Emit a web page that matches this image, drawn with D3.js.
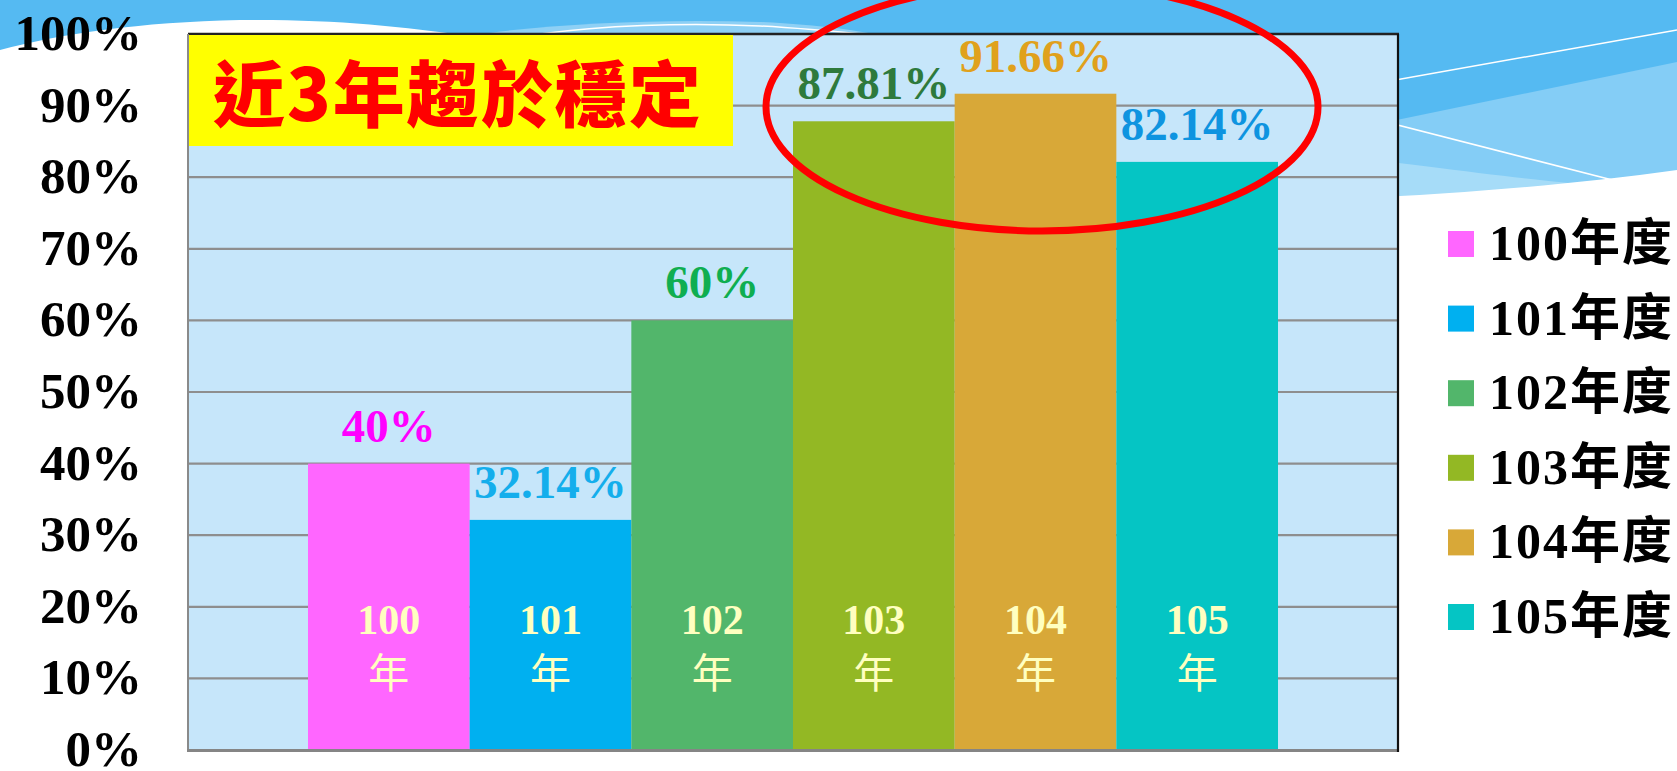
<!DOCTYPE html>
<html>
<head>
<meta charset="utf-8">
<script src="https://cdn.jsdelivr.net/npm/d3@7/dist/d3.min.js"></script>
<style>
  html, body { margin: 0; padding: 0; background: #ffffff; }
  svg { display: block; }
</style>
</head>
<body>
<svg id="chart" width="1677" height="771"></svg>
<script>
// ---- data ----
const categories = ["100年度", "101年度", "102年度", "103年度", "104年度", "105年度"];
const barYears = ["100", "101", "102", "103", "104", "105"];
const values = [40, 32.14, 60, 87.81, 91.66, 82.14];
const valueLabels = ["40%", "32.14%", "60%", "87.81%", "91.66%", "82.14%"];
const yTicks = [0, 10, 20, 30, 40, 50, 60, 70, 80, 90, 100];
const yTickLabels = ["0%", "10%", "20%", "30%", "40%", "50%", "60%", "70%", "80%", "90%", "100%"];
const barColors = ["#FF66FF", "#00B0F0", "#52B66B", "#93B824", "#D8A838", "#05C5C4"];
const labelColors = ["#FF00FF", "#14AEEC", "#0FAE50", "#2E7A3C", "#E0A11C", "#0E94E0"];
const titleText = "近3年趨於穩定";

const svg = d3.select("#chart");
const W = 1677, H = 771;
const plot = { left: 188, right: 1398, top: 34, bottom: 750 };

// ---- background sky decoration ----
const bg = svg.append("g");
bg.append("rect").attr("x", 0).attr("y", 0).attr("width", W).attr("height", 260).attr("fill", "#55BAF2");
bg.append("path").attr("d", "M1300,140 L1677,62 L1677,260 L1300,260 Z").attr("fill", "#84CDF6");
bg.append("path").attr("d", "M1300,150 C1450,170 1550,182 1620,188 L1677,190 L1677,260 L1300,260 Z").attr("fill", "#A6DCF8");
bg.append("path").attr("d", "M440,40 C520,26 640,18 760,22 C820,25 860,30 900,40 Z").attr("fill", "#8ED0F5");
bg.append("path").attr("d", "M1300,97 L1677,30").attr("stroke", "#ffffff").attr("stroke-width", 1.5).attr("fill", "none");
bg.append("path").attr("d", "M1300,100 L1628,184").attr("stroke", "#ffffff").attr("stroke-width", 1.5).attr("fill", "none");
bg.append("path").attr("d", "M540,34 C600,26 680,22 760,26 C800,28 840,32 880,36").attr("stroke", "#ffffff").attr("stroke-width", 1.5).attr("fill", "none");
bg.append("path")
  .attr("d", "M0,50 C60,34 140,22 240,20 C330,19 400,26 470,36 L1300,200 C1400,198 1550,188 1677,170 L1677,771 L0,771 Z")
  .attr("fill", "#ffffff");

// ---- scales ----
const y = d3.scaleLinear().domain([0, 100]).range([plot.bottom, plot.top]);
const x0 = d3.scaleBand().domain(["all"]).range([plot.left, plot.right]).paddingInner(0).paddingOuter(0.1237);
const x1 = d3.scaleBand().domain(categories).range([0, x0.bandwidth()]).padding(0);

// ---- plot area ----
svg.append("rect")
  .attr("x", plot.left).attr("y", plot.top)
  .attr("width", plot.right - plot.left).attr("height", plot.bottom - plot.top)
  .attr("fill", "#C6E6FA");

svg.append("g").selectAll("line").data(yTicks.filter(d => d > 0 && d < 100)).join("line")
  .attr("x1", plot.left).attr("x2", plot.right)
  .attr("y1", d => y(d)).attr("y2", d => y(d))
  .attr("stroke", "#8E8E8E").attr("stroke-width", 2.2);

const gx = x0("all");
svg.append("g").selectAll("rect").data(categories).join("rect")
  .attr("x", (d) => gx + x1(d))
  .attr("y", (d, i) => y(values[i]))
  .attr("width", x1.bandwidth())
  .attr("height", (d, i) => y(0) - y(values[i]))
  .attr("fill", (d, i) => barColors[i]);

svg.append("line").attr("x1", plot.left).attr("x2", plot.right + 1).attr("y1", plot.top).attr("y2", plot.top)
  .attr("stroke", "#222222").attr("stroke-width", 2.5);
svg.append("line").attr("x1", plot.left).attr("x2", plot.left).attr("y1", plot.top).attr("y2", plot.bottom + 1)
  .attr("stroke", "#8A8A8A").attr("stroke-width", 2);
svg.append("line").attr("x1", plot.left - 1).attr("x2", plot.right).attr("y1", plot.bottom + 0.5).attr("y2", plot.bottom + 0.5)
  .attr("stroke", "#858585").attr("stroke-width", 3);
svg.append("line").attr("x1", plot.right).attr("x2", plot.right).attr("y1", plot.top).attr("y2", plot.bottom + 2)
  .attr("stroke", "#111111").attr("stroke-width", 2.2);

// value labels
svg.append("g").selectAll("text").data(categories).join("text")
  .attr("x", d => gx + x1(d) + x1.bandwidth() / 2)
  .attr("y", (d, i) => y(values[i]) - 22)
  .attr("text-anchor", "middle")
  .attr("font-family", "'Liberation Serif', 'Times New Roman', serif")
  .attr("font-weight", "bold")
  .attr("font-size", 47)
  .attr("fill", (d, i) => labelColors[i])
  .text((d, i) => valueLabels[i]);

// inner year labels
const inner = svg.append("g");
inner.selectAll("text.yr").data(categories).join("text").attr("class", "yr")
  .attr("x", d => gx + x1(d) + x1.bandwidth() / 2)
  .attr("y", 634)
  .attr("text-anchor", "middle")
  .attr("font-family", "'Liberation Serif', 'Times New Roman', serif")
  .attr("font-weight", "bold")
  .attr("font-size", 42)
  .attr("fill", "#FFFFC0")
  .text((d, i) => barYears[i]);
inner.selectAll("text.nian").data(categories).join("text").attr("class", "nian")
  .attr("x", d => gx + x1(d) + x1.bandwidth() / 2)
  .attr("y", 688)
  .attr("text-anchor", "middle")
  .attr("font-family", "'Noto Sans CJK TC', sans-serif")
  .attr("font-weight", "normal")
  .attr("font-size", 41)
  .attr("fill", "#FFFFC0")
  .text("年");

// y axis labels
svg.append("g").selectAll("text").data(yTicks).join("text")
  .attr("x", 142)
  .attr("y", d => y(d) + 16)
  .attr("text-anchor", "end")
  .attr("font-family", "'Liberation Serif', 'Times New Roman', serif")
  .attr("font-weight", "bold")
  .attr("font-size", 51)
  .attr("fill", "#000000")
  .text((d, i) => yTickLabels[i]);

// title box
svg.append("rect").attr("x", 189).attr("y", 35).attr("width", 544).attr("height", 111).attr("fill", "#FFFF00");
svg.append("text")
  .attr("x", 213).attr("y", 121)
  .attr("font-family", "'Noto Sans CJK TC', sans-serif")
  .attr("font-weight", 900)
  .attr("font-size", 72)
  .attr("letter-spacing", 2)
  .attr("fill", "#FF0000")
  .text(titleText);

// red ellipse
svg.append("ellipse")
  .attr("cx", 1042).attr("cy", 107).attr("rx", 276).attr("ry", 124)
  .attr("fill", "none").attr("stroke", "#FF0000").attr("stroke-width", 7);

// legend
const leg = svg.append("g").selectAll("g").data(categories).join("g")
  .attr("transform", (d, i) => `translate(1448, ${244 + i * 74.6})`);
leg.append("rect").attr("x", 0).attr("y", -13).attr("width", 26).attr("height", 26)
  .attr("fill", (d, i) => barColors[i]);
leg.append("text").attr("x", 41).attr("y", 16)
  .attr("font-family", "'Liberation Serif', 'Noto Sans CJK TC', serif")
  .attr("font-weight", "bold")
  .attr("font-size", 50)
  .attr("letter-spacing", 2)
  .attr("fill", "#000000")
  .text(d => d);
</script>
</body>
</html>
